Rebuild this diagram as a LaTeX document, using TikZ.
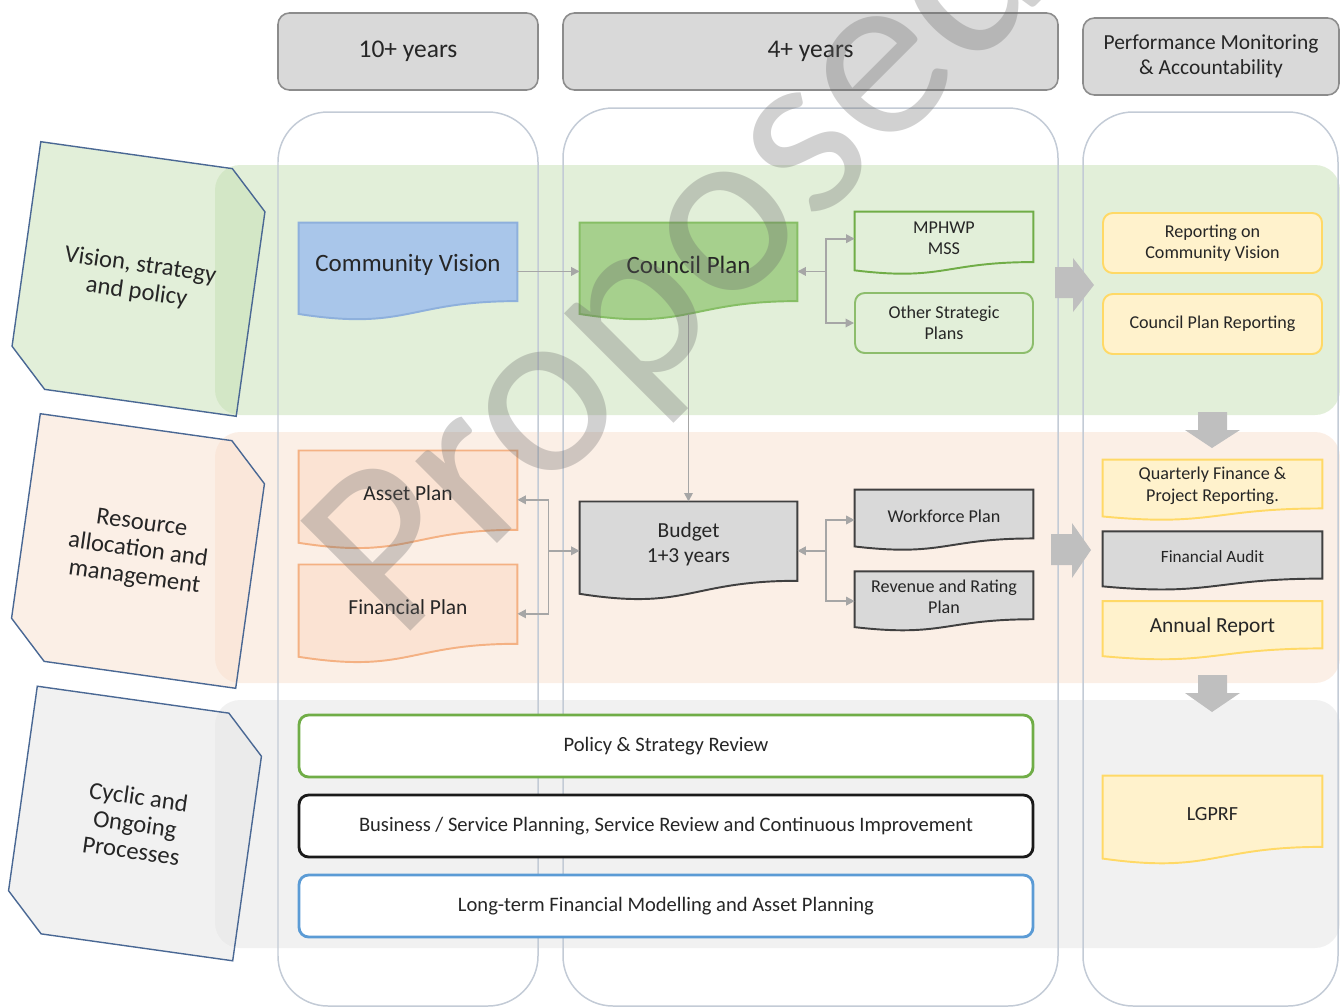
\documentclass[tikz,border=0pt]{standalone}
\usepackage{fontspec}
\setmainfont{Carlito}
\usepackage{tikz}
\usetikzlibrary{
  arrows.meta,
  positioning,
  calc,
  backgrounds,
}
\pgfdeclarelayer{docs}
\pgfsetlayers{background,docs,main}

\definecolor{hdrFill}{HTML}{D9D9D9}
\definecolor{hdrLine}{HTML}{8C8C8C}
\definecolor{colLine}{HTML}{C3CBD6}
\definecolor{rowGreen}{HTML}{C5DFB3}
\definecolor{rowPeach}{HTML}{F8DFCE}
\definecolor{rowGray}{HTML}{E4E4E4}
\definecolor{labelLine}{HTML}{4A6894}
\definecolor{cvFill}{HTML}{A9C6EA}
\definecolor{cvLine}{HTML}{8EB0DC}
\definecolor{cpFill}{HTML}{A6D08D}
\definecolor{cpLine}{HTML}{86BE65}
\definecolor{stratLine}{HTML}{70AD47}
\definecolor{repFill}{HTML}{FFF2CC}
\definecolor{repLine}{HTML}{FFD966}
\definecolor{assetFill}{HTML}{FBE3D3}
\definecolor{assetLine}{HTML}{F4B183}
\definecolor{budFill}{HTML}{D9D9D9}
\definecolor{budLine}{HTML}{404040}
\definecolor{bizLine}{HTML}{1A1A1A}
\definecolor{ltLine}{HTML}{5B9BD5}
\definecolor{connGray}{HTML}{A6A6A6}
\definecolor{arrowGray}{HTML}{BFBFBF}
\definecolor{txtDark}{HTML}{262626}

\tikzset{
  sz/.style 2 args={minimum width=#1*0.02cm, minimum height=#2*0.02cm},
  fHead/.style={font=\fontsize{14.5}{17}\selectfont},
  fBig/.style={font=\fontsize{14.2}{17}\selectfont},
  fMid/.style={font=\fontsize{12.2}{14.2}\selectfont},
  fProc/.style={font=\fontsize{11.7}{14}\selectfont},
  fSmall/.style={font=\fontsize{10.3}{12}\selectfont},
  hdrbox/.style={
    rectangle, rounded corners=6.5pt, draw=hdrLine, fill=hdrFill,
    line width=0.9pt, inner sep=0pt, align=center, text=txtDark, fHead,
  },
  rowlabel/.style={
    rectangle, sz={231}{244}, inner sep=0pt, rotate=-8,
    align=center, text=txtDark, font=\fontsize{14}{15.5}\selectfont,
  },
  docnode/.style={
    rectangle, inner sep=0pt, align=center, text=txtDark,
  },
  roundbox/.style 2 args={
    rectangle, rounded corners=5.5pt, draw=#1, fill=#2, line width=1.1pt,
    inner sep=0pt, align=center, text=txtDark,
  },
  procbox/.style={
    rectangle, rounded corners=5.5pt, draw=#1, fill=white, line width=1.6pt,
    sz={734}{62}, inner sep=0pt, text=txtDark, fProc,
  },
  colframe/.style={draw=colLine, line width=0.85pt, rounded corners=1cm},
  band/.style={fill=#1, fill opacity=0.5, rounded corners=0.5cm},
  conn/.style={
    -{Triangle[length=1.7mm,width=1.7mm]}, line width=1pt, draw=connGray,
  },
  blockarrow/.style={fill=arrowGray, draw=none},
}

% document outline with wavy bottom, drawn from the anchors of a node
\newcommand{\docoutline}[3]{%
  \path[draw=#2, fill=#3, line width=1.1pt]
    (#1.north west) -- (#1.north east)
    -- ($(#1.north east)!0.933!(#1.south east)$)
    .. controls ($(#1.north)!0.933!(#1.south)$) and ($(#1.north)!1.287!(#1.south)$)
    .. ($(#1.north west)!1.086!(#1.south west)$) -- cycle;
  \coordinate (#1-e) at ($(#1.north east)!0.58!(#1.south east)$);
  \coordinate (#1-w) at ($(#1.north west)!0.58!(#1.south west)$);
}
% snipped tilted card behind a row label
\newcommand{\labeloutline}[2]{%
  \path[draw=labelLine, line width=0.8pt, fill=#2, fill opacity=0.5]
    (#1.north west) -- ($(#1.north east)!0.165!(#1.north west)$)
    -- ($(#1.north east)!0.156!(#1.south east)$) -- (#1.south east)
    -- ($(#1.south west)!0.165!(#1.south east)$)
    -- ($(#1.south west)!0.156!(#1.north west)$) -- cycle;
}

\begin{document}
\begin{tikzpicture}[x=0.02cm, y=-0.02cm]
\useasboundingbox (0,0) rectangle (1340,1008);

% row bands and time-frame columns
\begin{scope}[on background layer]
  \fill[band=rowGreen] (215,165) rectangle (1340,415);
  \fill[band=rowPeach] (215,432) rectangle (1340,683);
  \fill[band=rowGray]  (215,700) rectangle (1340,948);
  \foreach \xa/\xb/\yt in {278/538/112, 563/1058/108, 1083/1338/112}
    \draw[colframe] (\xa,\yt) rectangle (\xb,1006);
\end{scope}

% headers
\node[hdrbox, sz={260}{77}] (h10) at (408,51.5) {10+ years};
\node[hdrbox, sz={495}{77}] (h4) at (810.5,51.5) {4+ years};
\node[hdrbox, sz={256}{77}, fMid] (hpm) at (1211,56.5)
  {Performance Monitoring\\\& Accountability};

% row labels
\node[rowlabel] (lvis) at (138.5,279) {Vision, strategy\\and policy};
\node[rowlabel] (lres) at (138,551) {Resource\\allocation and\\management};
\node[rowlabel] (lcyc) at (135,823.5) {Cyclic and\\Ongoing\\Processes};

% vision, strategy and policy
\node[docnode, sz={218}{83.4}, fBig] (cv) at (408,264.7) {Community Vision};
\node[docnode, sz={217}{83.4}, fBig] (cp) at (688.5,264.7) {Council Plan};
\node[docnode, sz={178}{53.3}, fSmall] (mss) at (944,238.7) {MPHWP\\MSS};
\node[roundbox={stratLine!80}{none}, sz={178}{60}, fSmall] (other) at (944,323)
  {Other Strategic\\Plans};
\node[roundbox={repLine}{repFill}, sz={219}{60}, fSmall] (rpcv) at (1212.5,243)
  {Reporting on\\Community Vision};
\node[roundbox={repLine}{repFill}, sz={219}{60}, fSmall] (rpcp) at (1212.5,324)
  {Council Plan Reporting};

% resource allocation and management
\node[docnode, sz={218}{84.3}, fMid] (asset) at (408,493) {Asset Plan};
\node[docnode, sz={218}{84.3}, fMid] (fin) at (408,607) {Financial Plan};
\node[docnode, sz={217}{84.3}, fMid] (bud) at (688.5,544) {Budget\\1+3 years};
\node[docnode, sz={178}{51.6}, fSmall] (wf) at (944,515.8) {Workforce Plan};
\node[docnode, sz={178}{50.7}, fSmall] (rev) at (944,597) {Revenue and Rating\\Plan};
\node[docnode, sz={219}{51.6}, fSmall] (qfr) at (1212.5,485.8)
  {Quarterly Finance \&\\Project Reporting.};
\node[docnode, sz={219}{49.9}, font=\fontsize{9.8}{12}\selectfont] (aud) at (1212.5,556.7)
  {Financial Audit};
\node[docnode, sz={219}{49.9}, fMid] (ann) at (1212.5,626.5) {Annual Report};
\node[docnode, sz={219}{75.7}, font=\fontsize{11.4}{13}\selectfont] (lgp) at (1212.5,813.8)
  {LGPRF};

% cyclic and ongoing processes
\node[procbox=stratLine] (pol) at (666,746) {Policy \& Strategy Review};
\node[procbox=bizLine] (biz) at (666,826)
  {Business / Service Planning, Service Review and Continuous Improvement};
\node[procbox=ltLine] (ltm) at (666,906)
  {Long-term Financial Modelling and Asset Planning};

\begin{pgfonlayer}{docs}
  \labeloutline{lvis}{rowGreen}
  \labeloutline{lres}{rowPeach}
  \labeloutline{lcyc}{rowGray}
  \docoutline{cv}{cvLine}{cvFill}
  \docoutline{cp}{cpLine}{cpFill}
  \docoutline{mss}{stratLine}{none}
  \docoutline{asset}{assetLine}{assetFill}
  \docoutline{fin}{assetLine}{assetFill}
  \docoutline{bud}{budLine}{budFill}
  \docoutline{wf}{budLine}{budFill}
  \docoutline{rev}{budLine}{budFill}
  \docoutline{qfr}{repLine}{repFill}
  \docoutline{aud}{budLine}{budFill}
  \docoutline{ann}{repLine}{repFill}
  \docoutline{lgp}{repLine}{repFill}
\end{pgfonlayer}

% connectors
\draw[conn] (cv-e) -- (cp-w);
\coordinate (j1) at ($(cp-e)!0.5!(cp-e -| mss.west)$);
\draw[conn] (j1) -- (cp-e);
\draw[conn] (j1) |- (mss.west);
\draw[conn] (j1) |- (other.west);
\draw[conn] ($(cp.north)!1.085!(cp.south)$) -- (bud.north);
\coordinate (j2) at ($(bud-w)!0.5!(bud-w -| asset.east)$);
\draw[conn] (j2) -- (bud-w);
\draw[conn] (j2) |- (asset-e);
\draw[conn] (j2) |- (fin-e);
\coordinate (j3) at ($(bud-e)!0.5!(bud-e -| wf.west)$);
\draw[conn] (j3) -- (bud-e);
\draw[conn] (j3) |- (wf-w);
\draw[conn] (j3) |- (rev-w);

% block arrows towards reporting
\fill[blockarrow] (1055,267) -- (1073,267) -- (1073,258) -- (1094,285)
  -- (1073,312) -- (1073,298) -- (1055,298) -- cycle;
\fill[blockarrow] (1051,534) -- (1072,534) -- (1072,523) -- (1091,550)
  -- (1072,578) -- (1072,565) -- (1051,565) -- cycle;
\fill[blockarrow] (1198,412) -- (1227,412) -- (1227,430) -- (1240,430)
  -- (1212,448) -- (1185,430) -- (1198,430) -- cycle;
\fill[blockarrow] (1198,675) -- (1227,675) -- (1227,693) -- (1240,693)
  -- (1212,712) -- (1185,693) -- (1198,693) -- cycle;

% watermark
\node[rotate=45, text=black!60, opacity=0.3, inner sep=0pt,
  font=\fontsize{138}{138}\selectfont] (wm) at (682,268) {Proposed};
\end{tikzpicture}
\end{document}
